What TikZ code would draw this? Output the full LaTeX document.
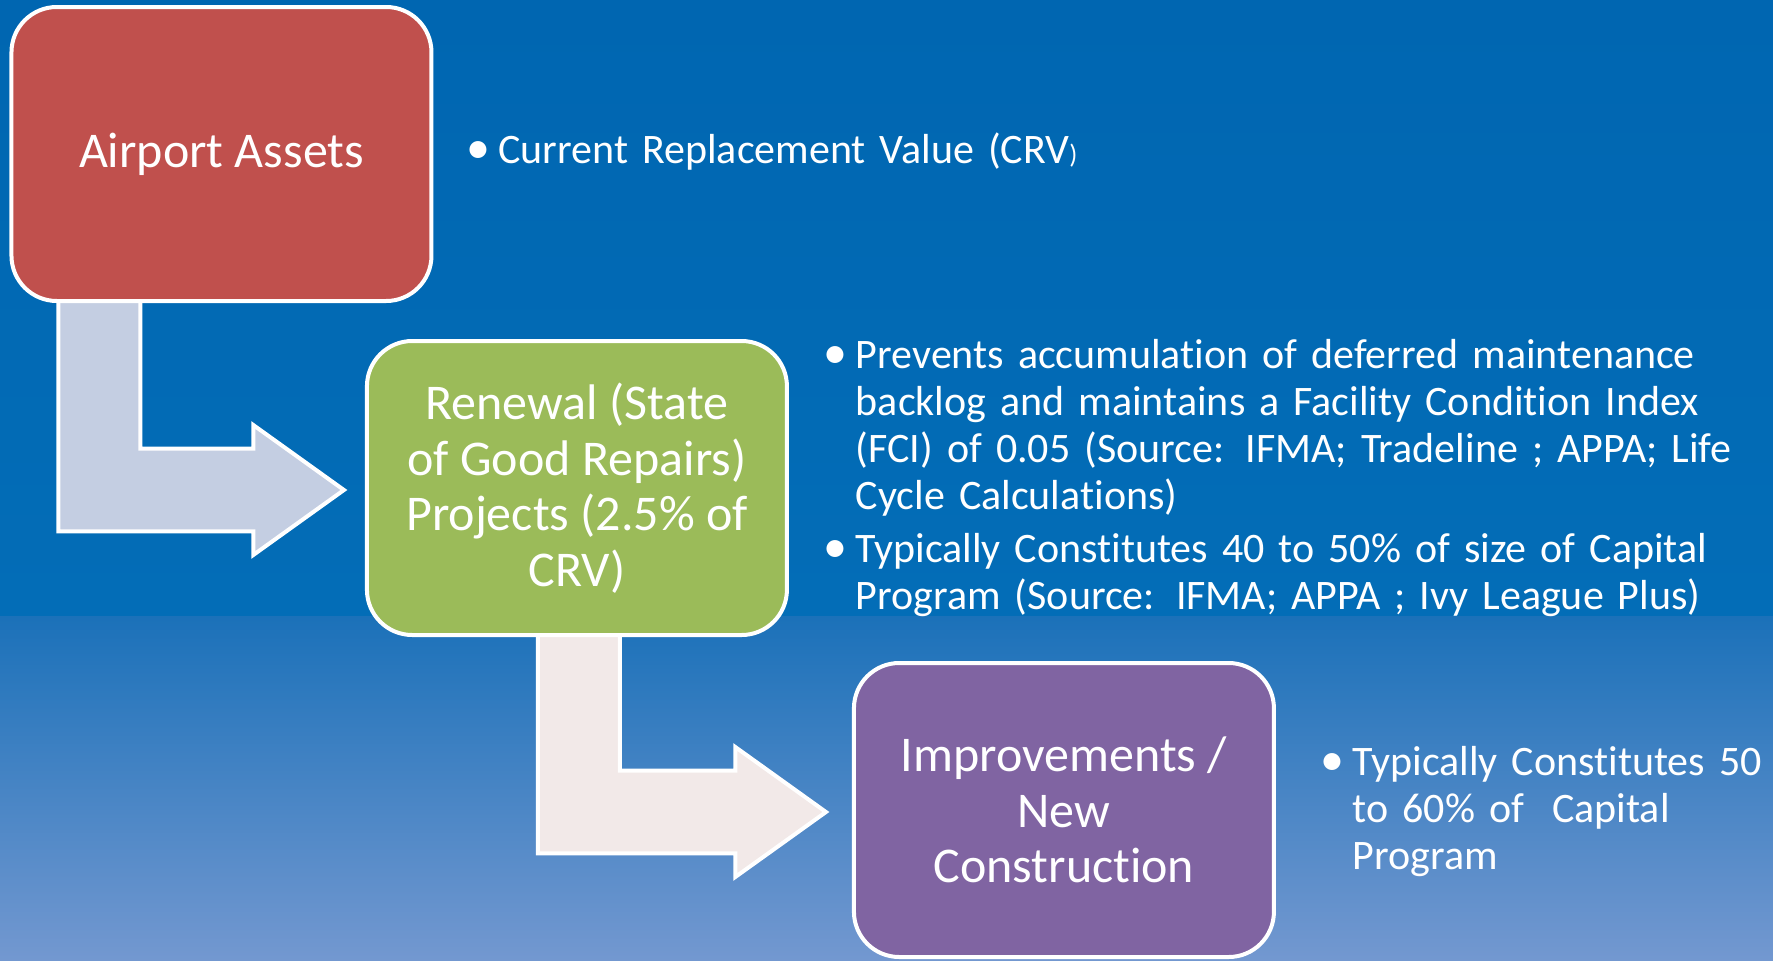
\documentclass[tikz,border=0pt]{standalone}
\usepackage{fontspec}
\setmainfont{Carlito}[Ligatures=NoCommon]
\usetikzlibrary{positioning,calc}

\definecolor{slidetop}{HTML}{0066B1}
\definecolor{slidemid}{HTML}{036DB7}
\definecolor{fadetop}{HTML}{1B71B9}
\definecolor{fadebottom}{HTML}{7398D0}
\definecolor{assetred}{HTML}{C0504D}
\definecolor{renewgreen}{HTML}{9BBB59}
\definecolor{improvepurple}{HTML}{8064A2}
\definecolor{arrowgrey}{HTML}{C4CEE2}
\definecolor{arrowrose}{HTML}{F2E9E8}

\pgfdeclarelayer{slide}
\pgfdeclarelayer{links}
\pgfsetlayers{slide,links,main}

\newcommand{\noteitem}[1]{\noindent\makebox[19.5pt][l]{\kern-4.5pt{\fontsize{36}{36}\selectfont\textbullet}}%
  \parbox[t]{\dimexpr\linewidth-19.5pt}{\raggedright #1\strut}\par}

\tikzset{
  stage/.style={draw=white, line width=3pt, rounded corners=34pt, minimum width=315pt,
    minimum height=220.5pt, inner sep=0pt, align=center, text=white,
    font=\fontsize{37.5}{41.6}\selectfont},
  notes/.style={inner sep=0pt, align=left, text=white, font=\fontsize{31.5}{35.25}\selectfont},
  bentarrow/.style={draw=white, line width=3pt, line join=miter}
}

\begin{document}
\begin{tikzpicture}[on grid,auto]
		\useasboundingbox (0,0) rectangle (1329.75pt,-720pt);
		% background
		\begin{pgfonlayer}{slide}
		\shade[top color=slidetop, bottom color=slidemid] (0,0) rectangle (1329.75pt,-462pt);
		\shade[top color=fadetop, bottom color=fadebottom] (0,-462pt) rectangle (1329.75pt,-720pt);
		\end{pgfonlayer}

		\node[stage, fill=assetred] (assets) at (166.1pt,-115.5pt) {Airport Assets};
		\node[stage, fill=renewgreen] (renewal) [below right=250.5pt and 266.6pt of assets]
			{Renewal (State\\of Good Repairs)\\Projects (2.5\% of\\CRV)};
		\node[stage, fill=improvepurple] (improve) [below right=241.5pt and 365.25pt of renewal]
			{Improvements /\\New\\Construction};

		\coordinate (tip1) at ($(renewal.west)+(-15.75pt,-1.5pt)$);
		\coordinate (tip2) at ($(improve.west)+(-19.5pt,-1.5pt)$);

		% bent arrows, behind the boxes
		\begin{pgfonlayer}{links}
		\draw[bentarrow, fill=arrowgrey] ($(assets.south west)+(36.75pt,3pt)$) coordinate (a1)
			-- ++(61.5pt,0) |- ($(tip1)+(-68pt,31pt)$) -- ++(0,17.75pt) -- (tip1)
			-- ($(tip1)+(-68pt,-48.75pt)$) -- ++(0,17.75pt) -| (a1) -- cycle;
		\draw[bentarrow, fill=arrowrose] ($(renewal.south west)+(129.75pt,3pt)$) coordinate (a2)
			-- ++(61.5pt,0) |- ($(tip2)+(-68pt,31pt)$) -- ++(0,17.75pt) -- (tip2)
			-- ($(tip2)+(-68pt,-48.75pt)$) -- ++(0,17.75pt) -| (a2) -- cycle;
		\end{pgfonlayer}

		\node[notes, text width=600pt, right=29pt of assets.east, anchor=west, yshift=0pt]
			(crv) {\noteitem{Current Replacement Value (CRV{\fontsize{20}{20}\selectfont)}}};
		\node[notes, text width=700pt, right=30.5pt of renewal.north east, anchor=north west]
			(renewnotes)
			{\noteitem{Prevents accumulation of deferred maintenance\\backlog and maintains a Facility Condition Index\\(FCI) of 0.05 (Source: IFMA; Tradeline ; APPA; Life\\Cycle Calculations)}
			\vspace{6pt}
			\noteitem{Typically Constitutes 40 to 50\% of size of Capital\\Program (Source: IFMA; APPA ; Ivy League Plus)}};
		\node[notes, text width=330pt, right=38pt of improve.east, anchor=west, yshift=-4pt]
			(improvenotes) {\noteitem{Typically Constitutes 50\\to 60\% of~ Capital\\Program}};
	\end{tikzpicture}
\end{document}
